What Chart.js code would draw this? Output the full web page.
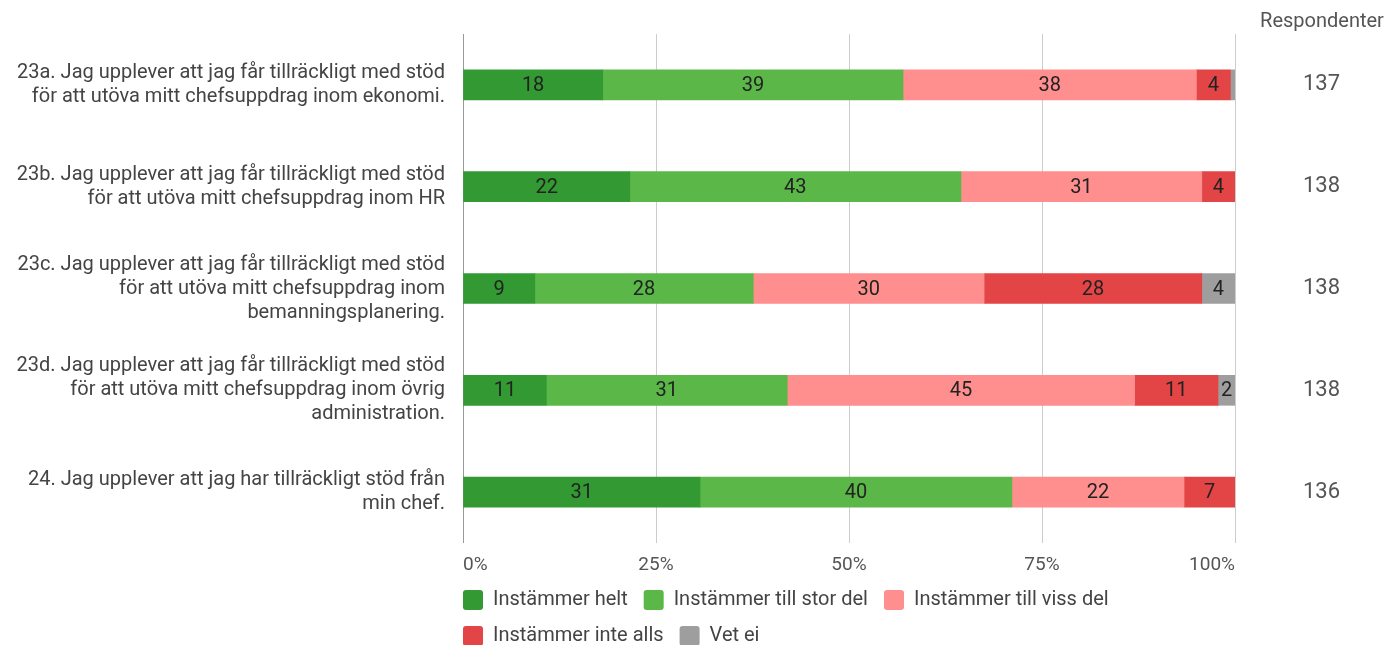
<!DOCTYPE html>
<html>
<head>
<meta charset="utf-8">
<script src="https://cdn.jsdelivr.net/npm/chart.js@4"></script>
<style>
  html, body { margin: 0; padding: 0; background: #fff; overflow: hidden; }
  #wrap { width: 1388px; height: 656px; }
</style>
</head>
<body>
<div id="wrap"><canvas id="c" width="1388" height="656"></canvas></div>
<script>
const categories = [
  ["23a. Jag upplever att jag får tillräckligt med stöd", "för att utöva mitt chefsuppdrag inom ekonomi."],
  ["23b. Jag upplever att jag får tillräckligt med stöd", "för att utöva mitt chefsuppdrag inom HR"],
  ["23c. Jag upplever att jag får tillräckligt med stöd", "för att utöva mitt chefsuppdrag inom", "bemanningsplanering."],
  ["23d. Jag upplever att jag får tillräckligt med stöd", "för att utöva mitt chefsuppdrag inom övrig", "administration."],
  ["24. Jag upplever att jag har tillräckligt stöd från", "min chef."]
];
const seriesNames = ["Instämmer helt", "Instämmer till stor del", "Instämmer till viss del", "Instämmer inte alls", "Vet ei"];
const instammerHelt = [18.1, 21.6, 9.3, 10.8, 30.7];
const instammerTillStorDel = [38.9, 42.9, 28.3, 31.2, 40.4];
const instammerTillVissDel = [38.0, 31.2, 29.9, 45.0, 22.3];
const instammerInteAlls = [4.4, 4.3, 28.2, 10.8, 6.6];
const vetEi = [0.6, 0, 4.3, 2.2, 0];
const respondenter = ["137", "138", "138", "138", "136"];
const xTicks = [0, 25, 50, 75, 100];
const respondentHeader = "Respondenter";

const colors = ["#339933", "#5ab748", "#ff8e8e", "#e34546", "#9e9e9e"];
const seriesValues = [instammerHelt, instammerTillStorDel, instammerTillVissDel, instammerInteAlls, vetEi];

const FONT = "Roboto, 'Noto Sans', sans-serif";

function noPad(scale) {
  scale.paddingTop = 0;
  scale.paddingBottom = 0;
  scale.paddingLeft = 0;
  scale.paddingRight = 0;
}

const segmentLabels = {
  id: 'segmentLabels',
  afterDatasetsDraw(chart) {
    const ctx = chart.ctx;
    ctx.save();
    ctx.font = "20px " + FONT;
    ctx.fillStyle = "#222";
    ctx.textAlign = "center";
    ctx.textBaseline = "middle";
    chart.data.datasets.forEach((ds, di) => {
      const meta = chart.getDatasetMeta(di);
      meta.data.forEach((el, i) => {
        const v = ds.data[i];
        if (v < 1.5) return;
        const cx = (el.x + el.base) / 2;
        ctx.fillText(String(Math.round(v)), cx, el.y + 1);
      });
    });
    ctx.restore();
  }
};

const headerPlugin = {
  id: 'headerPlugin',
  afterLayout(chart) {
    if (chart.legend) {
      chart.legend.left -= 16;
      chart.legend.right -= 16;
    }
  },
  afterDraw(chart) {
    const ctx = chart.ctx;
    const y2 = chart.scales.y2;
    ctx.save();
    ctx.font = "20px " + FONT;
    ctx.fillStyle = "#555";
    ctx.textAlign = "center";
    ctx.textBaseline = "middle";
    ctx.fillText(respondentHeader, y2.left + 87, 22);
    ctx.restore();
  }
};

new Chart(document.getElementById('c'), {
  type: 'bar',
  data: {
    labels: categories,
    datasets: seriesNames.map((name, i) => ({
      label: name,
      data: seriesValues[i],
      backgroundColor: colors[i],
      borderWidth: 0,
      barThickness: 30,
      yAxisID: 'y'
    }))
  },
  options: {
    indexAxis: 'y',
    responsive: false,
    animation: false,
    layout: { padding: { top: 34, left: 0, right: 0, bottom: 0 } },
    scales: {
      x: {
        stacked: true,
        min: 0,
        max: 100,
        afterBuildTicks(scale) { scale.ticks = xTicks.map(v => ({ value: v })); },
        afterFit(scale) { noPad(scale); scale.height = 31; },
        ticks: {
          callback: v => v + '%',
          font: { family: FONT, size: 19 },
          color: '#555',
          padding: 11,
          maxRotation: 0,
          align: 'inner'
        },
        grid: {
          drawTicks: false,
          color: ctx => (ctx.tick && ctx.tick.value === 0) ? '#999' : '#ccc',
          lineWidth: 1
        },
        border: { display: false }
      },
      y: {
        stacked: true,
        position: 'left',
        afterFit(scale) { noPad(scale); scale.width = 463; },
        ticks: {
          font: { family: FONT, size: 20, lineHeight: 1.2 },
          color: '#444',
          padding: 18
        },
        grid: { display: false, drawTicks: false },
        border: { display: false }
      },
      y2: {
        type: 'category',
        labels: respondenter,
        position: 'right',
        offset: true,
        afterFit(scale) { noPad(scale); scale.width = 153; },
        ticks: {
          font: { family: FONT, size: 22 },
          color: '#555',
          padding: 68,
          crossAlign: 'center'
        },
        grid: { display: false, drawTicks: false },
        border: { display: false }
      }
    },
    plugins: {
      legend: {
        position: 'bottom',
        align: 'start',
        fullSize: false,
        labels: {
          boxWidth: 20,
          boxHeight: 20,
          useBorderRadius: true,
          borderRadius: 3,
          padding: 16,
          color: '#444',
          font: { family: FONT, size: 20 }
        }
      },
      tooltip: { enabled: false }
    }
  },
  plugins: [segmentLabels, headerPlugin]
});
</script>
</body>
</html>
